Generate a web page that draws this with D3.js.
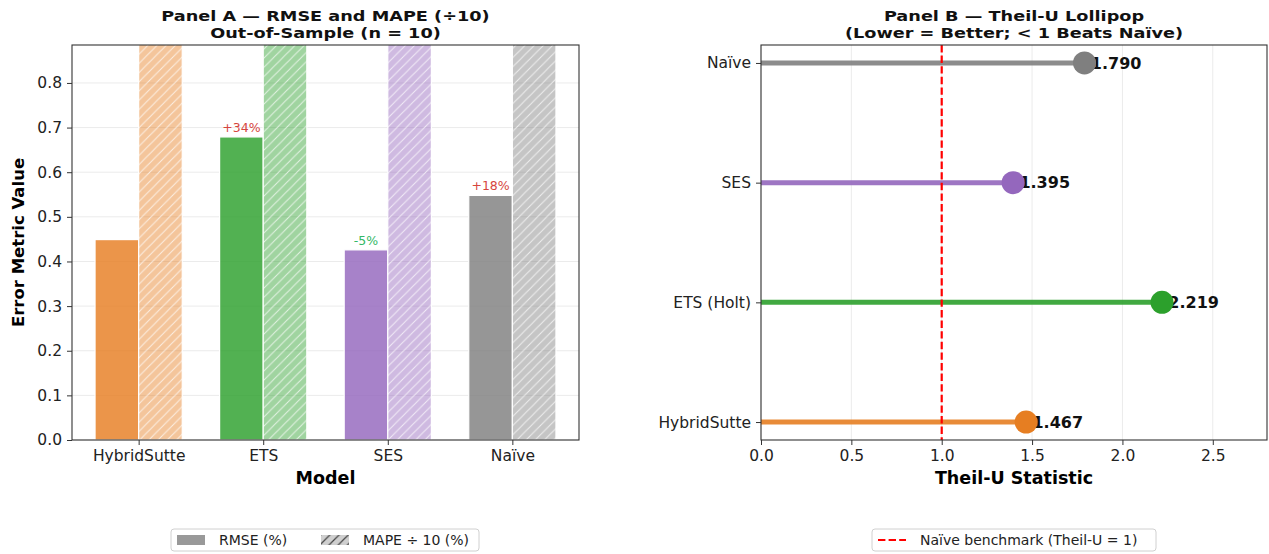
<!DOCTYPE html>
<html>
<head>
<meta charset="utf-8">
<script src="https://cdn.jsdelivr.net/npm/d3@7"></script>
<style>
  body { margin: 0; background: #ffffff; }
  text { font-family: "DejaVu Sans", sans-serif; }
</style>
</head>
<body>
<svg id="chart" width="1269" height="554"></svg>
<script>
// ---- Panel A data: error metrics per model ----
const models = ["HybridSutte", "ETS", "SES", "Naïve"];
const rmse = [0.449, 0.679, 0.426, 0.548];
const mapeDiv10 = [1.42, 1.68, 1.35, 1.51];
const deltaLabels = [null, "+34%", "-5%", "+18%"];
const modelColors = ["#e67e22", "#2ca02c", "#9467bd", "#7f7f7f"];
const yTicksA = [0, 0.1, 0.2, 0.3, 0.4, 0.5, 0.6, 0.7, 0.8];

// ---- Panel B data: Theil-U statistic (bottom to top) ----
const theilModels = ["HybridSutte", "ETS (Holt)", "SES", "Naïve"];
const theilU = [1.467, 2.219, 1.395, 1.790];
const theilColors = ["#e67e22", "#2ca02c", "#9467bd", "#7f7f7f"];
const xTicksB = [0, 0.5, 1.0, 1.5, 2.0, 2.5];
const benchmark = 1;

const svg = d3.select("#chart");
const defs = svg.append("defs");

// diagonal hatch for MAPE bars
function hatch(id, stroke, width, bg) {
  const s = 9.2;
  const p = defs.append("pattern").attr("id", id)
    .attr("patternUnits", "userSpaceOnUse").attr("width", s).attr("height", s);
  if (bg) p.append("rect").attr("width", s).attr("height", s).attr("fill", bg);
  p.append("path")
    .attr("d", `M0,${s} L${s},0 M${-s/2},${s/2} L${s/2},${-s/2} M${s/2},${s*1.5} L${s*1.5},${s/2}`)
    .attr("stroke", stroke).attr("stroke-width", width);
}
hatch("hatchWhite", "rgba(255,255,255,0.7)", 1, null);
hatch("hatchLegend", "#444", 1.2, "#cfcfcf");

// wide bold two-line title
function title(g, cx, lines) {
  lines.forEach((t, k) => {
    g.append("text")
      .attr("transform", `translate(${cx},${21 + k * 17}) scale(1.22,1)`)
      .attr("text-anchor", "middle")
      .attr("font-size", 14.5).attr("font-weight", "bold").attr("fill", "#111")
      .text(t);
  });
}

// ================= Panel A =================
const A = { left: 72, right: 579, top: 45, bottom: 440 };
const xA = d3.scaleLinear().domain([-0.535, models.length - 1 + 0.535]).range([A.left, A.right]);
const yA = d3.scaleLinear().domain([0, 0.885]).range([A.bottom, A.top]);
const barW = 0.35;

defs.append("clipPath").attr("id", "clipA").append("rect")
  .attr("x", A.left).attr("y", A.top).attr("width", A.right - A.left).attr("height", A.bottom - A.top);

const gA = svg.append("g");

// horizontal grid
gA.append("g").selectAll("line").data(yTicksA).join("line")
  .attr("x1", A.left).attr("x2", A.right)
  .attr("y1", d => yA(d)).attr("y2", d => yA(d))
  .attr("stroke", "#ebebeb").attr("stroke-width", 1);

const bars = gA.append("g").attr("clip-path", "url(#clipA)");
// RMSE bars
bars.selectAll("rect.rmse").data(rmse).join("rect").attr("class", "rmse")
  .attr("x", (d, i) => xA(i - barW))
  .attr("width", (d, i) => xA(i) - xA(i - barW))
  .attr("y", d => yA(d)).attr("height", d => yA(0) - yA(d))
  .attr("fill", (d, i) => modelColors[i]).attr("fill-opacity", 0.82)
  .attr("stroke", "#ffffff").attr("stroke-width", 1.2);
// MAPE ÷ 10 bars (lighter fill, hatched)
const mapeG = bars.selectAll("g.mape").data(mapeDiv10).join("g").attr("class", "mape");
mapeG.append("rect")
  .attr("x", (d, i) => xA(i))
  .attr("width", (d, i) => xA(i + barW) - xA(i))
  .attr("y", d => yA(d)).attr("height", d => yA(0) - yA(d))
  .attr("fill", (d, i) => modelColors[i]).attr("fill-opacity", 0.45);
mapeG.append("rect")
  .attr("x", (d, i) => xA(i))
  .attr("width", (d, i) => xA(i + barW) - xA(i))
  .attr("y", d => yA(d)).attr("height", d => yA(0) - yA(d))
  .attr("fill", "url(#hatchWhite)")
  .attr("stroke", "#ffffff").attr("stroke-width", 1.2);

// relative-change labels over RMSE bars
gA.append("g").selectAll("text").data(models.map((m, i) => i).filter(i => deltaLabels[i])).join("text")
  .attr("x", i => xA(i - barW / 2))
  .attr("y", i => yA(rmse[i]) - 5)
  .attr("text-anchor", "middle")
  .attr("font-size", 12.5)
  .attr("fill", i => deltaLabels[i].startsWith("-") ? "#34b866" : "#d6453d")
  .text(i => deltaLabels[i]);

// axes A
const axA = gA.append("g");
axA.append("g").attr("transform", `translate(0,${A.bottom})`)
  .call(d3.axisBottom(xA).tickValues(models.map((m, i) => i)).tickFormat(i => models[i]).tickSize(5).tickPadding(5))
  .call(g => g.select(".domain").remove());
axA.append("g").attr("transform", `translate(${A.left},0)`)
  .call(d3.axisLeft(yA).tickValues(yTicksA).tickFormat(d3.format(".1f")).tickSize(5).tickPadding(5))
  .call(g => g.select(".domain").remove());
axA.selectAll(".tick text").attr("font-size", 15.5).attr("fill", "#222").attr("font-family", "DejaVu Sans");
axA.selectAll(".tick line").attr("stroke", "#333");
gA.append("rect").attr("x", A.left).attr("y", A.top)
  .attr("width", A.right - A.left).attr("height", A.bottom - A.top)
  .attr("fill", "none").attr("stroke", "#333").attr("stroke-width", 1.1);

// titles and labels A
const cA = (A.left + A.right) / 2;
title(gA, cA, ["Panel A — RMSE and MAPE (÷10)", "Out-of-Sample (n = 10)"]);
gA.append("text").attr("x", cA).attr("y", 484).attr("text-anchor", "middle")
  .attr("font-size", 17.5).attr("font-weight", "bold").text("Model");
gA.append("text").attr("transform", `translate(24,${(A.top + A.bottom) / 2}) rotate(-90)`)
  .attr("text-anchor", "middle").attr("font-size", 16.5).attr("font-weight", "bold")
  .text("Error Metric Value");

// ================= Panel B =================
const B = { left: 761, right: 1267, top: 45, bottom: 440 };
const xB = d3.scaleLinear().domain([0, 2.8]).range([B.left, B.right]);
const yB = d3.scaleLinear().domain([-0.15, theilModels.length - 1 + 0.15]).range([B.bottom, B.top]);
const gB = svg.append("g");

// vertical grid
gB.append("g").selectAll("line").data(xTicksB).join("line")
  .attr("x1", d => xB(d)).attr("x2", d => xB(d))
  .attr("y1", B.top).attr("y2", B.bottom)
  .attr("stroke", "#ebebeb").attr("stroke-width", 1);

// stems
gB.append("g").selectAll("line").data(theilU).join("line")
  .attr("x1", xB(0)).attr("x2", d => xB(d))
  .attr("y1", (d, i) => yB(i)).attr("y2", (d, i) => yB(i))
  .attr("stroke", (d, i) => theilColors[i]).attr("stroke-opacity", 0.9).attr("stroke-width", 5);

// benchmark line
gB.append("line")
  .attr("x1", xB(benchmark)).attr("x2", xB(benchmark))
  .attr("y1", B.top).attr("y2", B.bottom)
  .attr("stroke", "#ff0000").attr("stroke-width", 2.2).attr("stroke-dasharray", "7.4,3.2");

// value labels (beneath the dots)
gB.append("g").selectAll("text").data(theilU).join("text")
  .attr("x", d => xB(d + 0.035))
  .attr("y", (d, i) => yB(i))
  .attr("dy", "0.36em")
  .attr("font-size", 16).attr("font-weight", "bold").attr("fill", "#111")
  .text(d => d3.format(".3f")(d));

// dots
gB.append("g").selectAll("circle").data(theilU).join("circle")
  .attr("cx", d => xB(d)).attr("cy", (d, i) => yB(i)).attr("r", 11.5)
  .attr("fill", (d, i) => theilColors[i]);

// axes B
const axB = gB.append("g");
axB.append("g").attr("transform", `translate(0,${B.bottom})`)
  .call(d3.axisBottom(xB).tickValues(xTicksB).tickFormat(d3.format(".1f")).tickSize(5).tickPadding(5))
  .call(g => g.select(".domain").remove());
axB.append("g").attr("transform", `translate(${B.left},0)`)
  .call(d3.axisLeft(yB).tickValues(theilModels.map((m, i) => i)).tickFormat(i => theilModels[i]).tickSize(5).tickPadding(5))
  .call(g => g.select(".domain").remove());
axB.selectAll(".tick text").attr("font-size", 15.5).attr("fill", "#222").attr("font-family", "DejaVu Sans");
axB.selectAll(".tick line").attr("stroke", "#333");
gB.append("rect").attr("x", B.left).attr("y", B.top)
  .attr("width", B.right - B.left).attr("height", B.bottom - B.top)
  .attr("fill", "none").attr("stroke", "#333").attr("stroke-width", 1.1);

const cB = (B.left + B.right) / 2;
title(gB, cB, ["Panel B — Theil-U Lollipop", "(Lower = Better; < 1 Beats Naïve)"]);
gB.append("text").attr("x", cB).attr("y", 484).attr("text-anchor", "middle")
  .attr("font-size", 17.5).attr("font-weight", "bold").text("Theil-U Statistic");

// ================= Legends =================
function legendBox(x, y, w, h) {
  svg.append("rect").attr("x", x).attr("y", y).attr("width", w).attr("height", h)
    .attr("rx", 3).attr("fill", "#fff").attr("stroke", "#d0d0d0").attr("stroke-width", 1);
}
const legY = 540;
legendBox(171, 529, 308, 22);
svg.append("rect").attr("x", 177).attr("y", legY - 5).attr("width", 28).attr("height", 10).attr("fill", "#999999");
svg.append("text").attr("x", 219).attr("y", legY).attr("dy", "0.36em").attr("font-size", 14).attr("fill", "#222").text("RMSE (%)");
svg.append("rect").attr("x", 321).attr("y", legY - 5).attr("width", 28).attr("height", 10).attr("fill", "url(#hatchLegend)");
svg.append("text").attr("x", 363).attr("y", legY).attr("dy", "0.36em").attr("font-size", 14).attr("fill", "#222").text("MAPE ÷ 10 (%)");

legendBox(872, 529, 284, 22);
svg.append("line").attr("x1", 878).attr("x2", 906).attr("y1", legY).attr("y2", legY)
  .attr("stroke", "#ff0000").attr("stroke-width", 2.2).attr("stroke-dasharray", "7.4,3.2");
svg.append("text").attr("x", 920).attr("y", legY).attr("dy", "0.36em").attr("font-size", 14).attr("fill", "#222").text("Naïve benchmark (Theil-U = 1)");
</script>
</body>
</html>
